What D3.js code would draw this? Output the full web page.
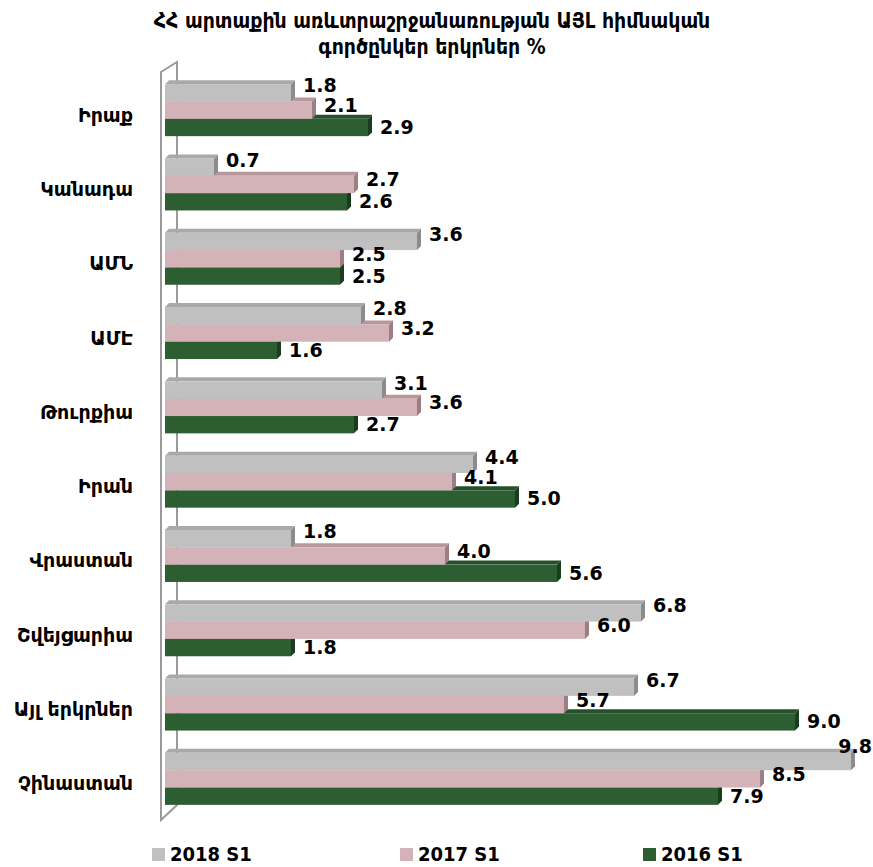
<!DOCTYPE html>
<meta charset="utf-8">
<style>
    body { margin: 0; background: #fff; }
    .cat { font: bold 19px "DejaVu Sans", sans-serif; text-anchor: end; }
    .val { font: bold 19px "DejaVu Sans", sans-serif; fill: #000; }
    .title { font: bold 21px "DejaVu Sans Condensed", "DejaVu Sans", sans-serif; text-anchor: middle; }
    .leg { font: bold 20px "DejaVu Sans Condensed", "DejaVu Sans", sans-serif; }
</style>
<svg width="873" height="867"></svg>
<script src="https://d3js.org/d3.v7.min.js"></script>
<script>

    var categories = ["Իրաք", "Կանադա", "ԱՄՆ", "ԱՄԷ", "Թուրքիա", "Իրան", "Վրաստան", "Շվեյցարիա", "Այլ երկրներ", "Չինաստան"];
    var seriesNames = ["2018 S1", "2017 S1", "2016 S1"];
    var v2018 = [1.8, 0.7, 3.6, 2.8, 3.1, 4.4, 1.8, 6.8, 6.7, 9.8];
    var v2017 = [2.1, 2.7, 2.5, 3.2, 3.6, 4.1, 4.0, 6.0, 5.7, 8.5];
    var v2016 = [2.9, 2.6, 2.5, 1.6, 2.7, 5.0, 5.6, 1.8, 9.0, 7.9];
    var titleLines = ["ՀՀ արտաքին առևտրաշրջանառության ԱՅԼ հիմնական", "գործընկեր երկրներ %"];

    var series = [v2018, v2017, v2016];
    var front = ["#c0c0c0", "#d4b3b8", "#2d5e32"],
        top_ = ["#a9a9a9", "#b8979c", "#24502a"],
        side = ["#8c8c8c", "#9c7e83", "#1b3d1f"];

    var svg = d3.select("svg"),
        depth = 4;

    var x = d3.scaleLinear().domain([0, 10]).range([165, 865]);
    var y = d3.scaleBand().domain(categories).range([73, 816]).paddingInner(0.3).paddingOuter(0.15);
    var ys = d3.scaleBand().domain(seriesNames).range([0, y.bandwidth()]);

    // title
    svg.selectAll(".title").data(titleLines).enter().append("text")
        .attr("class", "title")
        .attr("x", 432)
        .attr("y", function (d, i) { return 22 + i * 26; })
        .attr("dominant-baseline", "middle")
        .text(function (d) { return d; });

    // wall
    svg.append("path")
        .attr("d", "M161,72 L177,62 L177,805 L161,820 Z")
        .attr("fill", "none")
        .attr("stroke", "#9a9a9a")
        .attr("stroke-width", 2);

    // bars, lower series first so the upper bar hides the top face of the next one
    var bars = [];
    categories.forEach(function (c, i) {
        for (var s = 2; s >= 0; s--) {
            bars.push({ cat: c, s: s, v: series[s][i] });
        }
    });

    var g = svg.selectAll(".bar").data(bars).enter().append("g").attr("class", "bar");

    g.append("path")
        .attr("fill", function (d) { return top_[d.s]; })
        .attr("d", function (d) {
            var x0 = x(0), x1 = x(d.v), y0 = y(d.cat) + ys(seriesNames[d.s]);
            return "M" + x0 + "," + y0 + "L" + (x0 + depth) + "," + (y0 - depth) +
                "L" + (x1 + depth) + "," + (y0 - depth) + "L" + x1 + "," + y0 + "Z";
        });
    g.append("path")
        .attr("fill", function (d) { return side[d.s]; })
        .attr("d", function (d) {
            var x1 = x(d.v), y0 = y(d.cat) + ys(seriesNames[d.s]), h = ys.bandwidth();
            return "M" + x1 + "," + y0 + "L" + (x1 + depth) + "," + (y0 - depth) +
                "L" + (x1 + depth) + "," + (y0 + h - depth) + "L" + x1 + "," + (y0 + h) + "Z";
        });
    g.append("rect")
        .attr("fill", function (d) { return front[d.s]; })
        .attr("x", x(0))
        .attr("y", function (d) { return y(d.cat) + ys(seriesNames[d.s]); })
        .attr("width", function (d) { return x(d.v) - x(0); })
        .attr("height", ys.bandwidth());

    // value labels
    var labelDy = [-6, -3.5, 1];
    svg.selectAll(".val").data(bars).enter().append("text")
        .attr("class", "val")
        .attr("dominant-baseline", "middle")
        .text(function (d) { return d.v.toFixed(1); })
        .each(function (d) {
            var t = d3.select(this),
                w = this.getComputedTextLength(),
                lx = x(d.v) + 12,
                ly = y(d.cat) + ys(seriesNames[d.s]) + ys.bandwidth() / 2 + labelDy[d.s];
            if (lx + w > 872) { lx = 872 - w; ly -= 8; }
            t.attr("x", lx).attr("y", ly);
        });

    // category labels
    svg.selectAll(".cat").data(categories).enter().append("text")
        .attr("class", "cat")
        .attr("x", 133)
        .attr("y", function (d) { return y(d) + y.bandwidth() / 2 + 6; })
        .attr("dominant-baseline", "middle")
        .text(function (d) { return d; });

    // legend
    var legX = [152, 400, 643];
    var leg = svg.selectAll(".legi").data(seriesNames).enter().append("g")
        .attr("transform", function (d, i) { return "translate(" + legX[i] + ",848)"; });
    leg.append("rect").attr("width", 13).attr("height", 13)
        .attr("fill", function (d, i) { return front[i]; });
    leg.append("text").attr("class", "leg")
        .attr("x", 18).attr("y", 7).attr("dominant-baseline", "middle")
        .text(function (d) { return d; });

</script>
